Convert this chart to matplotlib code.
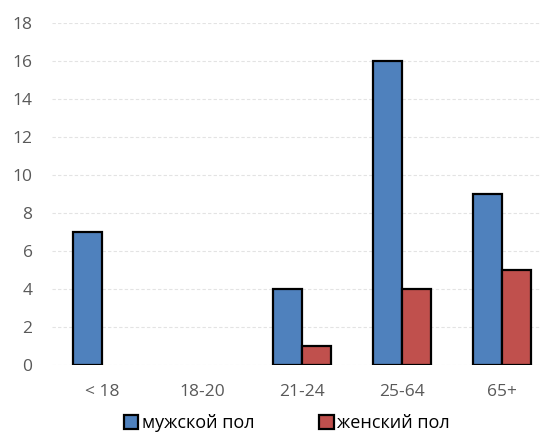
import matplotlib
matplotlib.use('Agg')
import matplotlib.pyplot as plt
from matplotlib.patches import Patch
import numpy as np

plt.rcParams['font.family'] = ['Open Sans', 'DejaVu Sans']

# data
categories = ['< 18', '18-20', '21-24', '25-64', '65+']
male = [7, 0, 4, 16, 9]
female = [0, 0, 1, 4, 5]
series_names = ['мужской пол', 'женский пол']

blue = '#4f81bd'
red = '#c0504d'
grey = '#595959'

fig = plt.figure(figsize=(5.41, 4.34), dpi=100)
ax = fig.add_axes([52/541, 69/434, 500/541, 342/434])

x = np.arange(len(categories))
w = 0.29
for i in range(len(categories)):
    if male[i] > 0:
        ax.bar(x[i] - w/2, male[i], width=w, color=blue, edgecolor='black', linewidth=1.6, zorder=3)
    if female[i] > 0:
        ax.bar(x[i] + w/2, female[i], width=w, color=red, edgecolor='black', linewidth=1.6, zorder=3)

ax.set_xlim(-0.5, len(categories) - 0.5)
ax.set_ylim(0, 18)
ax.set_yticks(range(0, 19, 2))
ax.set_xticks(x)
ax.set_xticklabels(categories)
ax.yaxis.grid(True, color='#e3e3e3', linestyle=(0, (3, 2)), linewidth=0.8, zorder=0)
ax.set_axisbelow(True)
for s in ax.spines.values():
    s.set_visible(False)
ax.tick_params(length=0, labelsize=12.5, colors=grey, pad=14)
ax.tick_params(axis='x', pad=14)

handles = [Patch(facecolor=blue, edgecolor='black', linewidth=1.6),
           Patch(facecolor=red, edgecolor='black', linewidth=1.6)]
fig.legend(handles, series_names, loc='center', bbox_to_anchor=(287/541, 11/434), ncol=2,
           frameon=False, handlelength=0.8, handleheight=0.8, handletextpad=0.2,
           columnspacing=3.6, fontsize=13, labelcolor='black')

fig.savefig('out.png', dpi=100)
